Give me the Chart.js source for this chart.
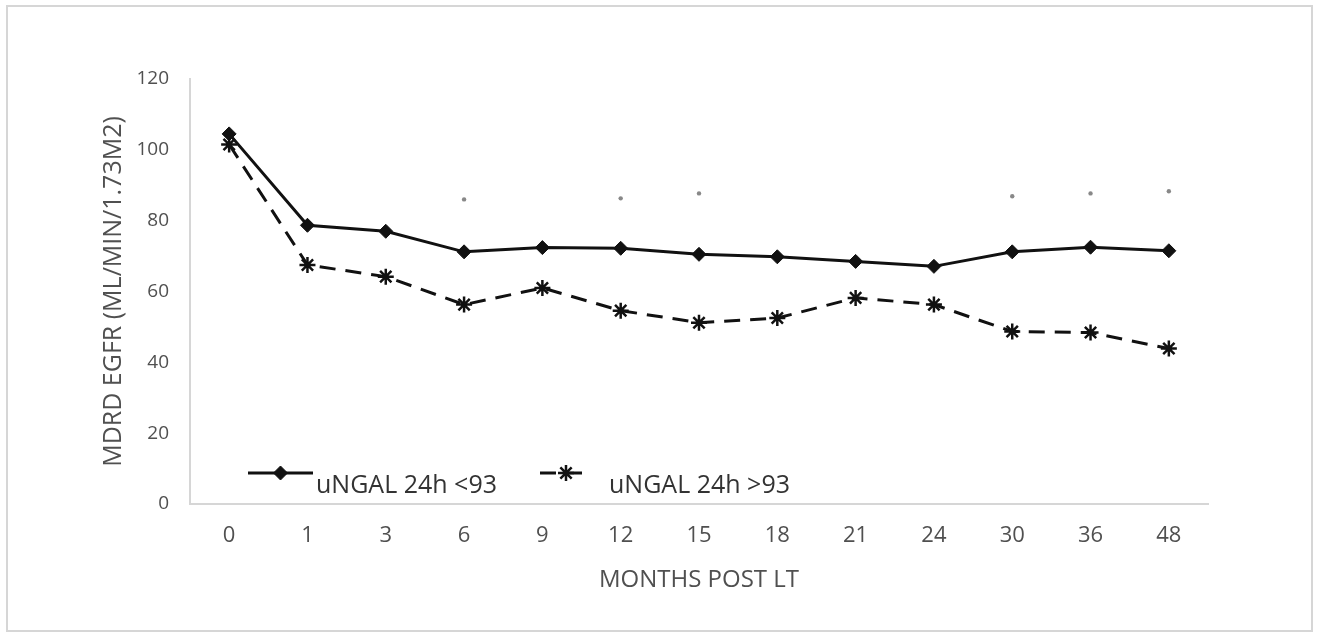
<!DOCTYPE html>
<html>
<head>
<meta charset="utf-8">
<script src="https://cdn.jsdelivr.net/npm/chart.js@4/dist/chart.umd.min.js"></script>
<style>
	body { margin: 0; background: #fff; }
	#frame { position: absolute; left: 6px; top: 5px; width: 1303px; height: 623px; border: 2px solid #d6d6d6; }
	#myChart { position: absolute; left: 0; top: 0; }
</style>
</head>
<body>
<div id="frame"></div>
<canvas id="myChart" width="1318" height="633"></canvas>
<script>
const months = ['0', '1', '3', '6', '9', '12', '15', '18', '21', '24', '30', '36', '48'];
const lowNgal = [104.5, 78.7, 77.0, 71.2, 72.4, 72.2, 70.5, 69.8, 68.5, 67.1, 71.2, 72.5, 71.5];
const highNgal = [101.5, 67.5, 64.2, 56.3, 61.0, 54.6, 51.2, 52.5, 58.2, 56.3, 48.7, 48.4, 43.9];
// significance marks (p < 0.05) above the curves
const sigMarks = [null, null, null, 86.0, null, 86.3, 87.7, null, null, null, 86.9, 87.7, 88.3];
const yTicks = [0, 20, 40, 60, 80, 100, 120];

const greyText = '#505050';
const font = '"Open Sans"';

//	legend drawn inside the plot, bottom left
const innerLegend = {
	id: 'innerLegend',
	afterDatasetsDraw(chart) {
		const ctx = chart.ctx;
		const area = chart.chartArea;
		const y = area.bottom - 31;
		const items = [
			{ ds: chart.data.datasets[0], x0: area.left + 58, x1: area.left + 123, tx: area.left + 126 },
			{ ds: chart.data.datasets[1], x0: area.left + 350, x1: area.left + 402, tx: area.left + 419 }
		];
		items.forEach(it => {
			ctx.save();
			ctx.strokeStyle = it.ds.borderColor;
			ctx.lineWidth = it.ds.borderWidth;
			ctx.setLineDash(it.ds.borderDash || []);
			ctx.beginPath();
			ctx.moveTo(it.x0, y);
			ctx.lineTo(it.x1, y);
			ctx.stroke();
			ctx.setLineDash([]);
			ctx.fillStyle = it.ds.pointBackgroundColor;
			ctx.strokeStyle = it.ds.pointBorderColor;
			ctx.lineWidth = it.ds.pointBorderWidth;
			Chart.helpers.drawPoint(ctx, {
				pointStyle: it.ds.pointStyle,
				radius: it.ds.pointRadius,
				rotation: 0,
				borderWidth: it.ds.pointBorderWidth
			}, (it.x0 + it.x1) / 2, y);
			ctx.fillStyle = '#333';
			ctx.font = '25px ' + font;
			ctx.textBaseline = 'middle';
			ctx.fillText(it.ds.label, it.tx, y + 13);
			ctx.restore();
		});
	}
};

const ctx = document.getElementById('myChart').getContext('2d');
const myChart = new Chart(ctx, {
	type: 'line',
	data: {
		labels: months,
		datasets: [{
			label: 'uNGAL 24h <93',
			data: lowNgal,
			borderColor: '#111',
			borderWidth: 3,
			pointStyle: 'rectRot',
			pointRadius: 7,
			pointBackgroundColor: '#111',
			pointBorderColor: '#111',
			pointBorderWidth: 1,
			tension: 0
		}, {
			label: 'uNGAL 24h >93',
			data: highNgal,
			borderColor: '#111',
			borderWidth: 3,
			borderDash: [16, 10],
			pointStyle: 'star',
			pointRadius: 8,
			pointBackgroundColor: '#111',
			pointBorderColor: '#111',
			pointBorderWidth: 2.5,
			tension: 0
		}, {
			label: '*',
			data: sigMarks,
			showLine: false,
			pointStyle: 'circle',
			pointRadius: 2.2,
			pointBackgroundColor: '#888',
			pointBorderWidth: 0
		}]
	},
	options: {
		responsive: false,
		animation: false,
		layout: {
			padding: { left: 98, top: 79, right: 110, bottom: 35 }
		},
		plugins: {
			legend: { display: false },
			tooltip: { enabled: false }
		},
		scales: {
			x: {
				offset: true,
				grid: { display: false, drawTicks: false },
				border: { color: '#d6d6d6', width: 2 },
				ticks: { color: greyText, font: { family: font, size: 22 }, padding: 19 },
				title: {
					display: true,
					text: 'MONTHS POST LT',
					color: greyText,
					font: { family: font, size: 24 },
					padding: { top: 0, bottom: 3 }
				},
				afterFit: scale => { scale.height = 94; }
			},
			y: {
				min: 0,
				max: 120,
				afterBuildTicks: scale => { scale.ticks = yTicks.map(v => ({ value: v })); },
				grid: { display: false, drawTicks: false },
				border: { color: '#d6d6d6', width: 2 },
				ticks: { color: greyText, font: { family: font, size: 19 }, padding: 21 },
				title: {
					display: true,
					text: 'MDRD EGFR (ML/MIN/1.73M2)',
					color: greyText,
					font: { family: font, size: 25 },
					padding: { top: 1, bottom: 0 }
				},
				afterFit: scale => { scale.width = 92; }
			}
		}
	},
	plugins: [innerLegend]
});
</script>
</body>
</html>
